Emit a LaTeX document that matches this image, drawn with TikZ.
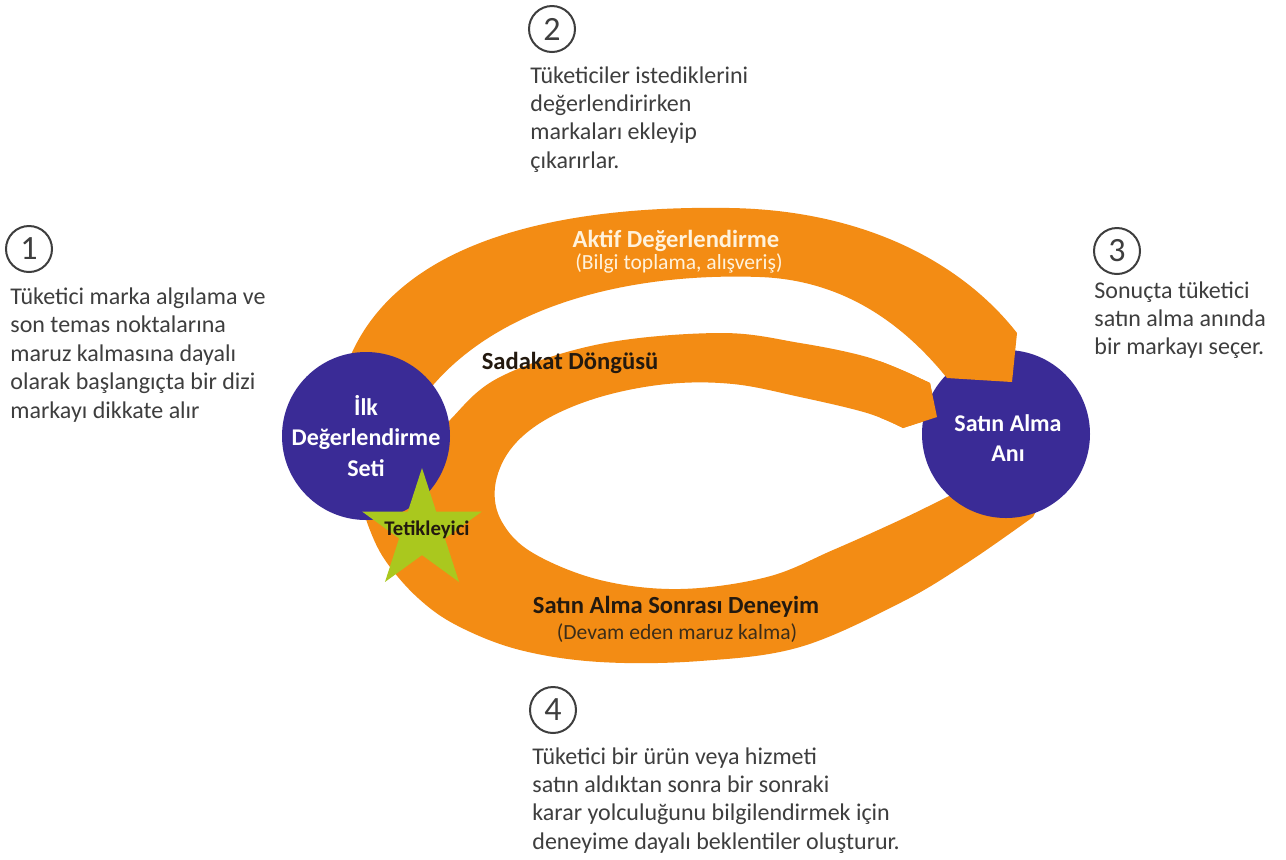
\documentclass[tikz,border=0pt]{standalone}
\usepackage{fontspec}
\setmainfont{Carlito}
\usetikzlibrary{shapes.geometric}
\definecolor{orng}{RGB}{243,140,20}
\definecolor{purp}{RGB}{58,43,150}
\definecolor{stargreen}{RGB}{170,200,30}
\definecolor{txtgray}{RGB}{62,62,62}
\definecolor{lbldark}{RGB}{35,25,15}
\definecolor{lblsub}{RGB}{60,45,25}
\definecolor{cream}{RGB}{255,242,220}
\def\loopPath{(985,480) -- (1045,495)
  -- plot[smooth,tension=0.6] coordinates {(1033,517) (967,563) (900,603) (800,647) (700,661) (600,662) (520,650) (458,626) (418,598) (385,560) (368,525) (360,495)}
  -- (380,470)
  -- plot[smooth,tension=0.6] coordinates {(420,458) (450,420) (500,377) (600,344) (720,333) (800,343) (867,357) (913,375)}
  -- (930,383) -- (937,417)
  -- plot[smooth,tension=0.6] coordinates {(903,428) (867,413) (800,397) (733,384) (667,384) (600,397) (545,420) (510,450) (495,487) (502,522) (533,553) (600,580) (680,589) (767,577) (833,550) (900,520) (947,497)}
  -- cycle}
\def\topPath{(380,400) -- (350,357)
  .. controls (400,240) and (560,205) .. (730,208)
  .. controls (860,210) and (960,260) .. (1017,333)
  -- (1012,382) -- (947,378)
  .. controls (900,320) and (840,280) .. (760,277)
  .. controls (620,272) and (490,310) .. (425,395)
  -- cycle}
\begin{document}
\begin{tikzpicture}[x=0.5pt,y=-0.5pt,
  bigcirc/.style={circle,fill=purp,minimum size=84pt,inner sep=0pt},
  circtext/.style={inner sep=0pt,text=white,font=\bfseries\fontsize{12}{15.2}\selectfont,align=center},
  numcirc/.style={circle,draw=txtgray,line width=1pt,minimum size=23pt,inner sep=0pt,text=txtgray,font=\fontsize{17}{18}\selectfont},
  desc/.style={anchor=base west,inner sep=0pt,text=txtgray,font=\fontsize{12}{14.2}\selectfont},
  bandtitle/.style={inner sep=0pt,font=\bfseries\fontsize{12.3}{14}\selectfont},
  bandsub/.style={inner sep=0pt,font=\fontsize{10.8}{13}\selectfont},
]
\useasboundingbox (0,0) rectangle (1286,859);
\fill[white] (0,0) rectangle (1286,859);

% lower loop (Sadakat + post-purchase)
\fill[orng] \loopPath;
% purchase moment circle
\node[bigcirc] (satin) at (1006,434) {};
% tip of loyalty loop over the circle
\begin{scope}
  \clip (880,330) rectangle (975,445);
  \fill[orng] \loopPath;
\end{scope}
% active evaluation band
\fill[orng] \topPath;
% initial consideration circle
\node[bigcirc] (ilk) at (366,436) {};
\node[circtext] (ilktxt) at (ilk.center) {İlk\\Değerlendirme\\Seti};
\node[circtext] (satintxt) at (1008,438) {Satın Alma\\Anı};
% trigger star
\node[star,star points=5,star point ratio=2.618,minimum size=63pt,inner sep=0pt,fill=stargreen] (star) at (422,531) {};
\node[inner sep=0pt,text=lbldark,font=\bfseries\fontsize{10.4}{12}\selectfont] (tet) at (427,530) {Tetikleyici};

% band labels
\node[bandtitle,text=cream] (aktif) at (676,241) {Aktif Değerlendirme};
\node[bandsub,text=cream] (bilgi) at (679,263) {(Bilgi toplama, alışveriş)};
\node[bandtitle,text=lbldark] (sadakat) at (570,363) {Sadakat Döngüsü};
\node[bandtitle,text=lbldark] (sonrasi) at (676,607) {Satın Alma Sonrası Deneyim};
\node[bandsub,text=lblsub] (devam) at (677,633) {(Devam eden maruz kalma)};

% numbered notes
\node[numcirc] (n1) at (29,249) {1};
\node[desc] (t1) at (10,304.5) {\begin{tabular}[t]{@{}l@{}}Tüketici marka algılama ve\\son temas noktalarına\\maruz kalmasına dayalı\\olarak başlangıçta bir dizi\\markayı dikkate alır\end{tabular}};
\node[numcirc] (n2) at (552,29) {2};
\node[desc] (t2) at (530,83) {\begin{tabular}[t]{@{}l@{}}Tüketiciler istediklerini\\değerlendirirken\\markaları ekleyip\\çıkarırlar.\end{tabular}};
\node[numcirc] (n3) at (1117,251) {3};
\node[desc] (t3) at (1094,298) {\begin{tabular}[t]{@{}l@{}}Sonuçta tüketici\\satın alma anında\\bir markayı seçer.\end{tabular}};
\node[numcirc] (n4) at (553,710) {4};
\node[desc] (t4) at (532,764) {\begin{tabular}[t]{@{}l@{}}Tüketici bir ürün veya hizmeti\\satın aldıktan sonra bir sonraki\\karar yolculuğunu bilgilendirmek için\\deneyime dayalı beklentiler oluşturur.\end{tabular}};
\end{tikzpicture}
\end{document}
